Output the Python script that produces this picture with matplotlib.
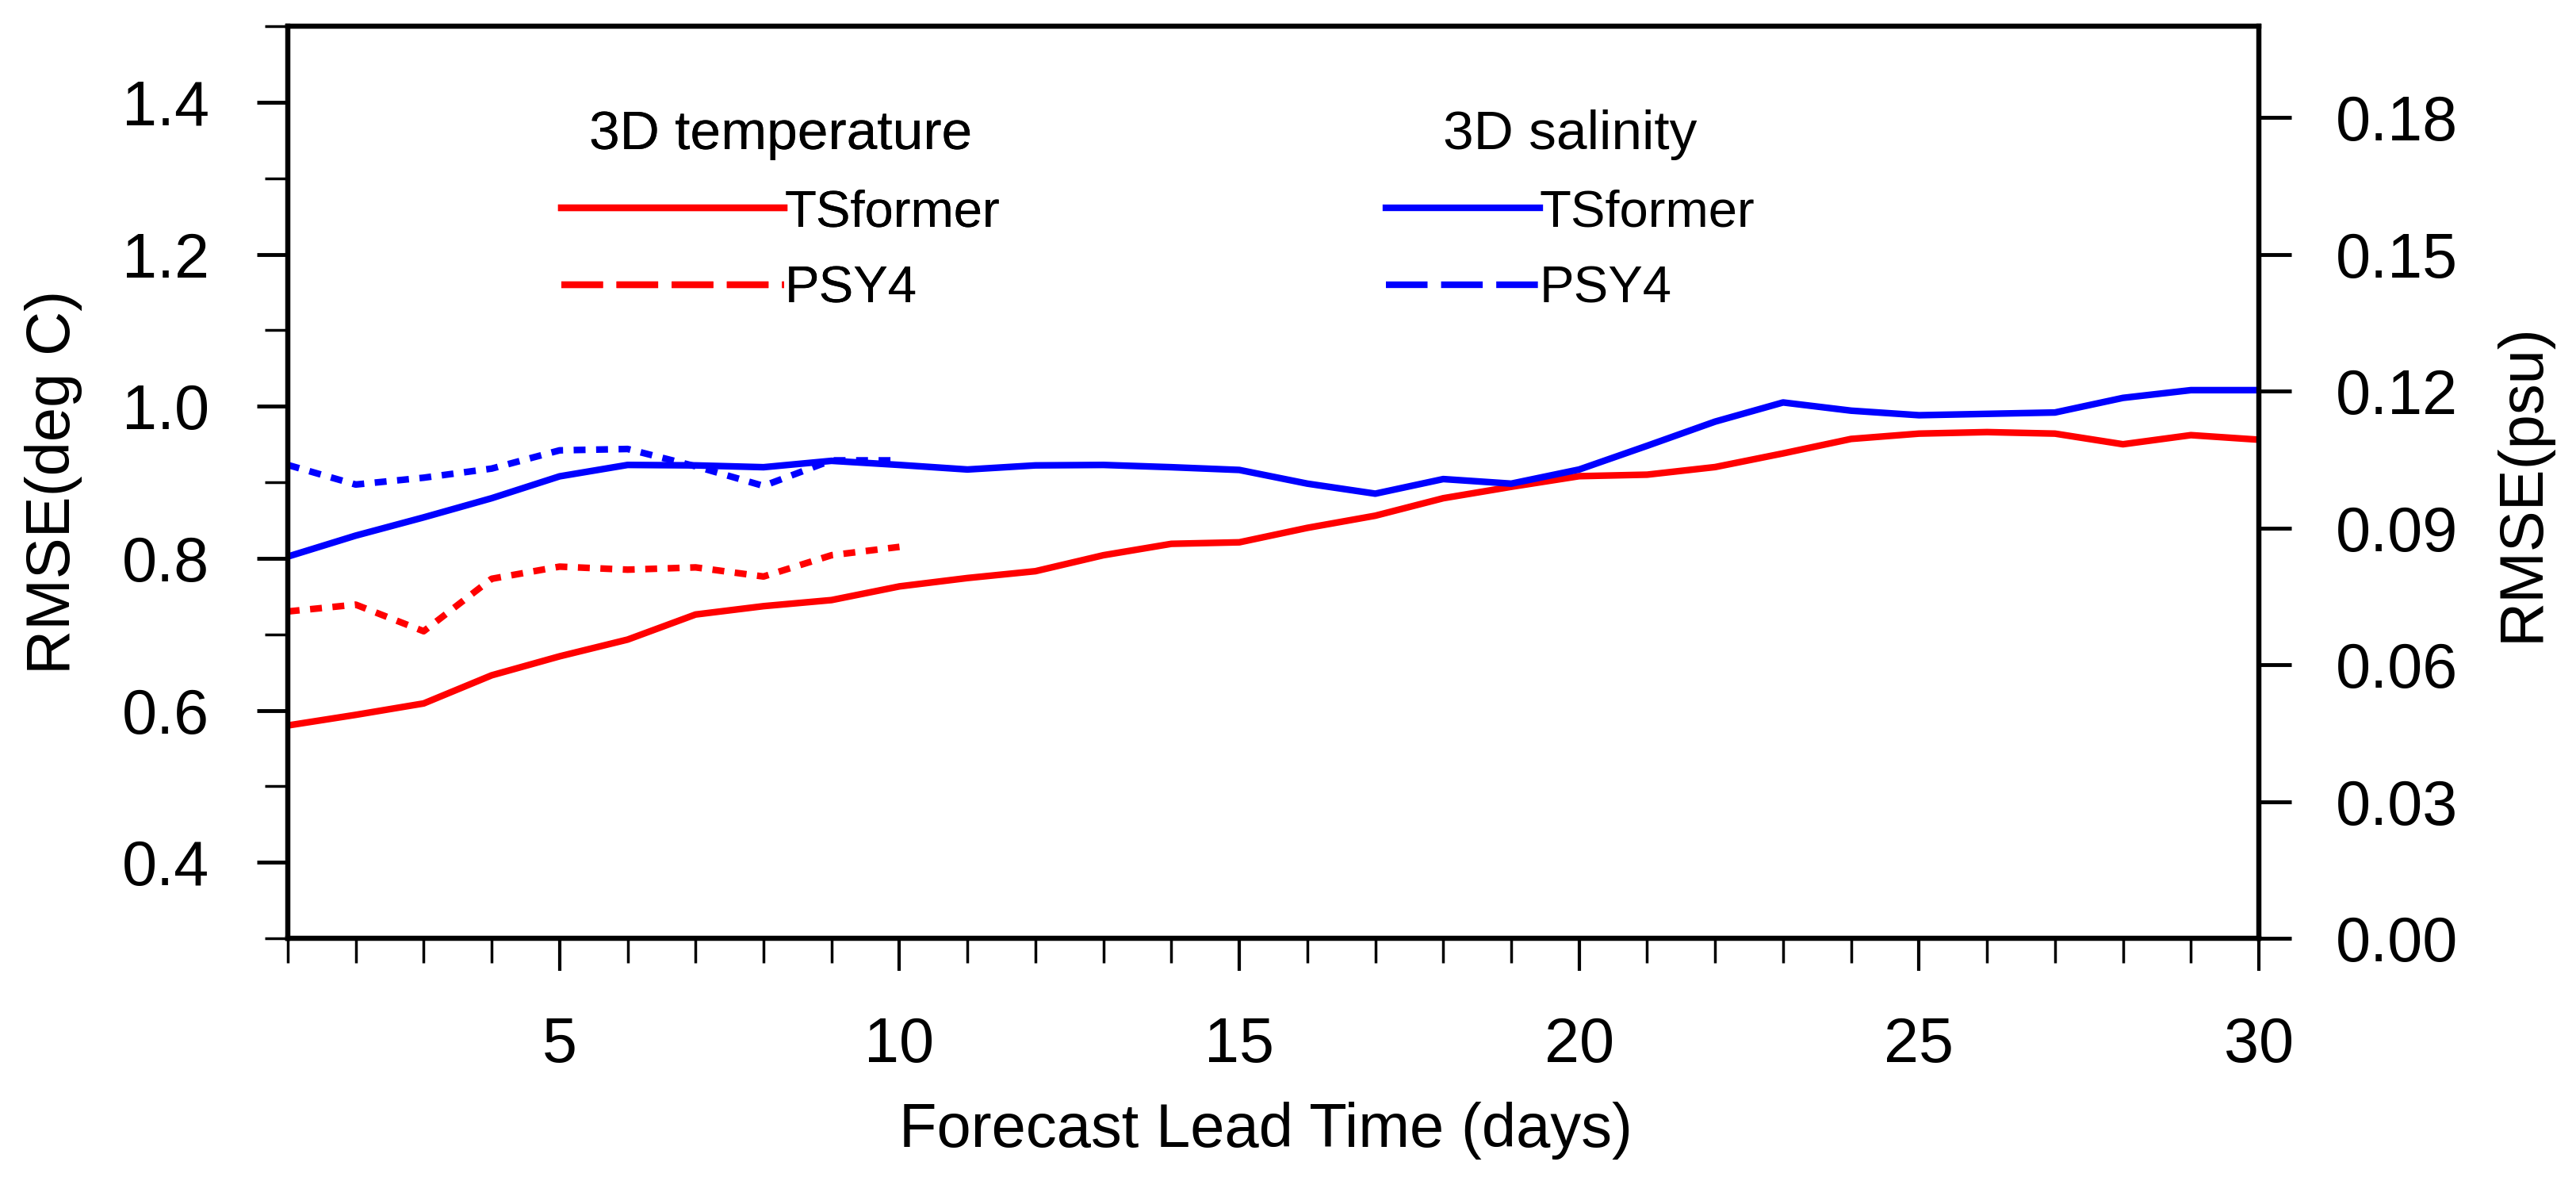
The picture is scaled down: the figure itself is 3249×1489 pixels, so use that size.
import numpy as np
import matplotlib
matplotlib.use('Agg')
import matplotlib.pyplot as plt
from matplotlib.lines import Line2D
from matplotlib.ticker import MultipleLocator, FormatStrFormatter

plt.rcParams['font.family'] = ['Liberation Sans', 'DejaVu Sans']

# forecast lead time (days)
days = np.arange(1, 31)
psyDays = np.arange(1, 11)

# 3D temperature RMSE (deg C)
tempTSformer = [0.580, 0.594, 0.609, 0.646, 0.671, 0.693, 0.726, 0.737, 0.745, 0.763,
                0.774, 0.783, 0.804, 0.819, 0.821, 0.840, 0.856, 0.879, 0.894, 0.908,
                0.910, 0.920, 0.938, 0.957, 0.964, 0.966, 0.964, 0.950, 0.962, 0.956]
tempPSY4 = [0.730, 0.739, 0.704, 0.773, 0.789, 0.785, 0.788, 0.776, 0.804, 0.815]

# 3D salinity RMSE (psu)
saltTSformer = [0.0837, 0.0883, 0.0923, 0.0965, 0.1013, 0.1038, 0.1037, 0.1033, 0.1047, 0.1038,
                0.1028, 0.1037, 0.1038, 0.1033, 0.1027, 0.0997, 0.0975, 0.1007, 0.0997, 0.1028,
                0.1080, 0.1133, 0.1175, 0.1157, 0.1147, 0.1150, 0.1153, 0.1185, 0.1202, 0.1202]
saltPSY4 = [0.1038, 0.0995, 0.1010, 0.1030, 0.1070, 0.1073, 0.1035, 0.0992, 0.1048, 0.1048]

lw = 6
tickSize = 57
labelSize = 56
legSize = 47
titleSize = 50
plotDash = (1.8, 1.6)
legDash = (6.3, 2.05)

fig = plt.figure(figsize=(32.49, 14.89), dpi=100)
ax = fig.add_axes([0.1117, 0.2055, 0.7652, 0.7723])
ax2 = ax.twinx()

ax.plot(days, tempTSformer, color='red', lw=lw)
ax.plot(psyDays, tempPSY4, color='red', lw=lw, dashes=plotDash)
ax2.plot(days, saltTSformer, color='blue', lw=lw)
ax2.plot(psyDays, saltPSY4, color='blue', lw=lw, dashes=plotDash)

ax.set_xlim(1, 30)
ax.set_ylim(0.3, 1.5)
ax2.set_ylim(0.0, 0.2)

ax.xaxis.set_major_locator(MultipleLocator(5))
ax.xaxis.set_minor_locator(MultipleLocator(1))
ax.yaxis.set_major_locator(MultipleLocator(0.2))
ax.yaxis.set_minor_locator(MultipleLocator(0.1))
ax.yaxis.set_major_formatter(FormatStrFormatter('%.1f'))
ax2.yaxis.set_major_locator(MultipleLocator(0.03))
ax2.yaxis.set_major_formatter(FormatStrFormatter('%.2f'))

ax.tick_params(axis='x', which='major', direction='out', length=29.5, width=3, pad=41, labelsize=tickSize)
ax.tick_params(axis='x', which='minor', direction='out', length=22, width=2.5)
ax.tick_params(axis='y', which='major', direction='out', length=28, width=3.5, pad=43, labelsize=tickSize)
ax.tick_params(axis='y', which='minor', direction='out', length=21, width=2.5)
ax2.tick_params(axis='y', which='major', direction='out', length=29.5, width=3.5, pad=40, labelsize=tickSize)

for a in (ax, ax2):
    for s in a.spines.values():
        s.set_linewidth(4.5)

ax.set_xlabel('Forecast Lead Time (days)', fontsize=labelSize)
ax.xaxis.set_label_coords(0.496, -0.179)
ax.set_ylabel('RMSE(deg C)', fontsize=labelSize)
ax.yaxis.set_label_coords(-0.1042, 0.5)
ax2.set_ylabel('RMSE(psu)', fontsize=labelSize)
ax2.yaxis.set_label_coords(1.119, 0.5)

tempHandles = [Line2D([], [], color='red', lw=lw),
               Line2D([], [], color='red', lw=lw, dashes=legDash)]
saltHandles = [Line2D([], [], color='blue', lw=lw),
               Line2D([], [], color='blue', lw=lw, dashes=legDash)]
names = ['TSformer', 'PSY4']

leg1 = ax.legend(tempHandles, names, title='3D temperature', loc='upper left',
                 bbox_to_anchor=(0.139, 0.909), frameon=False, fontsize=legSize,
                 title_fontsize=titleSize, handlelength=4.3, handletextpad=0,
                 labelspacing=0.56, borderpad=0, borderaxespad=0)
ax.add_artist(leg1)
leg2 = ax2.legend(saltHandles, names, title='3D salinity', loc='upper left',
                  bbox_to_anchor=(0.557, 0.909), frameon=False, fontsize=legSize,
                  title_fontsize=titleSize, handlelength=2.97, handletextpad=0,
                  labelspacing=0.56, borderpad=0, borderaxespad=0)

fig.savefig('out.png', dpi=100)
